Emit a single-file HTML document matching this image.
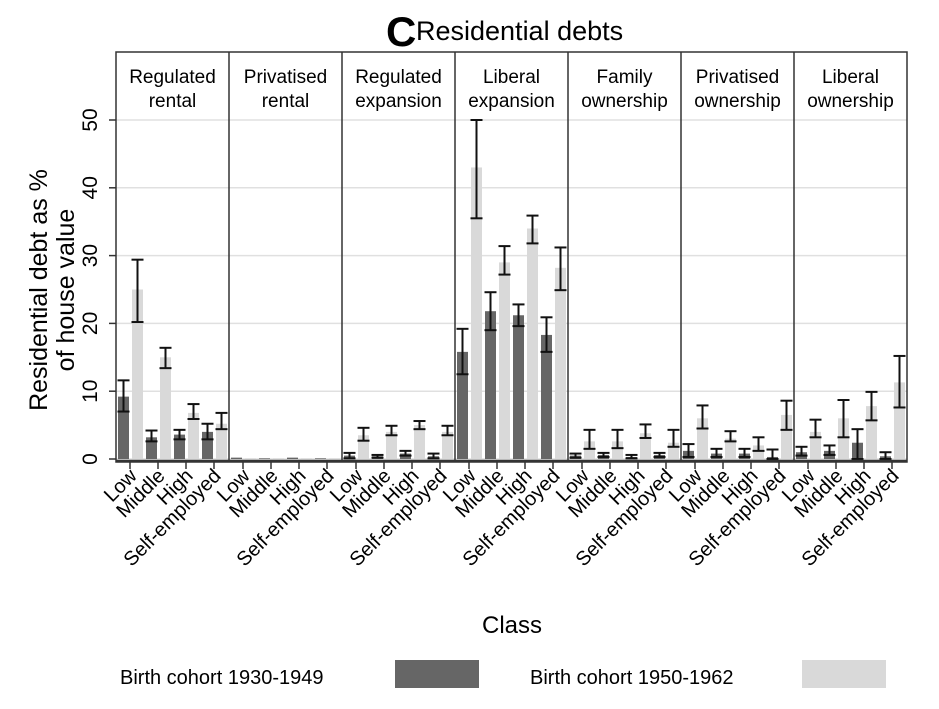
<!DOCTYPE html>
<html><head><meta charset="utf-8"><style>
body{margin:0;background:#fff;}
svg{display:block;font-family:"Liberation Sans",Arial,sans-serif;}
</style></head><body>
<svg id="chart" width="939" height="709" viewBox="0 0 939 709">
<text x="386" y="46" font-size="42" font-weight="bold">C</text>
<text x="416" y="40" font-size="27">Residential debts</text>
<text transform="translate(47,290) rotate(-90)" text-anchor="middle" font-size="25">Residential debt as %</text>
<text transform="translate(74,290) rotate(-90)" text-anchor="middle" font-size="25">of house value</text>
<text x="512" y="633" text-anchor="middle" font-size="24">Class</text>
<g>
<text x="120" y="684" font-size="20">Birth cohort 1930-1949</text>
<rect x="395" y="660" width="84" height="28" fill="#666"/>
<text x="530" y="684" font-size="20">Birth cohort 1950-1962</text>
<rect x="802" y="660" width="84" height="28" fill="#d9d9d9"/>
</g>
<g id="plot"></g>
</svg>
<script>
const panels = ["Regulated|rental","Privatised|rental","Regulated|expansion","Liberal|expansion","Family|ownership","Privatised|ownership","Liberal|ownership"];
const classes = ["Low","Middle","High","Self-employed"];
const yTicks = [0,10,20,30,40,50];
// older cohort (1930-1949)
const oldVal = [[9.2,3.2,3.6,4.0],[0.2,0.1,0.2,0.1],[0.5,0.4,0.8,0.4],[15.8,21.8,21.2,18.3],[0.5,0.6,0.3,0.6],[1.2,0.8,0.8,0.3],[1.0,1.2,2.4,0.4]];
const oldLo  = [[7.0,2.6,2.9,2.9],[0.2,0.1,0.2,0.1],[0.1,0.2,0.5,0.1],[12.5,19.0,19.6,15.8],[0.2,0.3,0.1,0.3],[0.3,0.3,0.3,0.0],[0.5,0.6,0.0,0.0]];
const oldHi  = [[11.6,4.2,4.3,5.2],[0.2,0.1,0.2,0.1],[0.9,0.6,1.2,0.8],[19.2,24.6,22.8,20.9],[0.8,0.9,0.6,0.9],[2.2,1.5,1.5,1.4],[1.8,2.0,4.4,1.0]];
// younger cohort (1950-1962)
const newVal = [[25.0,15.0,6.8,5.2],[0.1,0.1,0.1,0.1],[3.5,4.0,5.0,4.0],[43.0,29.0,34.0,28.2],[2.6,2.6,3.8,2.4],[6.0,3.0,2.0,6.5],[4.0,6.0,7.8,11.3]];
const newLo  = [[20.2,13.4,5.9,4.4],[0.1,0.1,0.1,0.1],[2.7,3.5,4.4,3.5],[35.5,27.2,31.8,24.9],[1.5,1.6,3.1,1.8],[4.5,2.6,1.2,4.3],[3.2,3.2,5.7,7.6]];
const newHi  = [[29.4,16.4,8.1,6.8],[0.1,0.1,0.1,0.1],[4.6,4.9,5.6,4.9],[50.0,31.4,35.9,31.2],[4.3,4.3,5.1,4.3],[7.9,4.1,3.2,8.6],[5.8,8.7,9.9,15.2]];

const NS="http://www.w3.org/2000/svg";
const g=document.getElementById('plot');
const X0=116, PW=113, Y0=459, YT=52, HB=120;
const y = v => Y0 - v*(Y0-HB)/50;
const px = p => X0 + p*PW;
const cx = (p,k) => px(p) + 14 + 28*k;
function mk(tag, attrs){const e=document.createElementNS(NS,tag);for(const k in attrs)e.setAttribute(k,attrs[k]);g.appendChild(e);return e;}

yTicks.forEach(t=>{
  const l=mk('line',{x1:X0,x2:px(7),y1:y(t),y2:y(t),stroke:'#e0e0e0','stroke-width':1.5});
  
  
  const tk=mk('line',{x1:X0-7,x2:X0,y1:y(t),y2:y(t),stroke:'#333','stroke-width':1.5});
  
  
  const tx=mk('text',{transform:`translate(${X0-19},${y(t)}) rotate(-90)`,'text-anchor':'middle','font-size':21});
  tx.textContent=t;
  
  
});

function errbar(c,lo,hi,name){
  if(hi-lo<0.05) return;
  const e1=mk('line',{x1:c,x2:c,y1:y(lo),y2:y(hi),stroke:'#111','stroke-width':2});
  
  
  [lo,hi].forEach(v=>{const cap=mk('line',{x1:c-6,x2:c+6,y1:y(v),y2:y(v),stroke:'#111','stroke-width':2});
    
    });
}

panels.forEach((p,i)=>{
  const lines=p.split('|');
  lines.forEach((ln,j)=>{
    const t=mk('text',{x:px(i)+PW/2,y:83+j*24,'text-anchor':'middle','font-size':19});
    t.textContent=ln;
    
    
  });
  classes.forEach((c,k)=>{
    const cc=cx(i,k);
    const b1=mk('rect',{x:cc-12,y:y(oldVal[i][k]),width:11,height:Math.max(0,Y0-y(oldVal[i][k])),fill:'#666'});
    
    
    const b2=mk('rect',{x:cc+2,y:y(newVal[i][k]),width:11,height:Math.max(0,Y0-y(newVal[i][k])),fill:'#d9d9d9'});
    
    
    errbar(cc-6.5,oldLo[i][k],oldHi[i][k],'errorbar-old-'+i+'-'+k);
    errbar(cc+7.5,newLo[i][k],newHi[i][k],'errorbar-new-'+i+'-'+k);
    const tk=mk('line',{x1:cc,x2:cc,y1:462,y2:469,stroke:'#333','stroke-width':1.5});
    
    
    const lb=mk('text',{transform:`translate(${cc+8},${477}) rotate(-45)`,'text-anchor':'end','font-size':20});
    lb.textContent=c;
    
    
  });
  if(i>0){const d=mk('line',{x1:px(i),x2:px(i),y1:YT,y2:462,stroke:'#333','stroke-width':1.5});
    
    }
});
const fr=mk('rect',{x:X0,y:YT,width:7*PW,height:462-YT,fill:'none',stroke:'#333','stroke-width':1.5});


const bl=mk('line',{x1:X0,x2:px(7),y1:461,y2:461,stroke:'#333','stroke-width':2.5});


</script>
</body></html>
